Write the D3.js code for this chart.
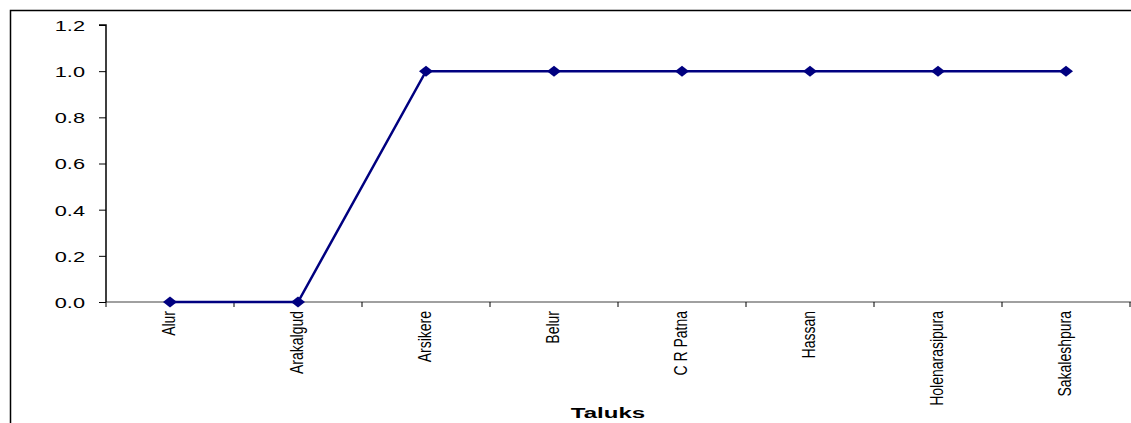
<!DOCTYPE html>
<html><head><meta charset="utf-8">
<script src="https://cdn.jsdelivr.net/npm/d3@7"></script>
<style>body{margin:0;background:#fff}svg{display:block}</style>
</head><body>
<script>
const categories = ["Alur","Arakalgud","Arsikere","Belur","C R Patna","Hassan","Holenarasipura","Sakaleshpura"];
const values = [0,0,1,1,1,1,1,1];
const yTicks = [0,0.2,0.4,0.6,0.8,1.0,1.2];
const xTitle = "Taluks";

const W=1131,H=423;
const svg=d3.select("body").append("svg").attr("width",W).attr("height",H);
// outer frame
svg.append("rect").attr("x",10.5).attr("y",10.5).attr("width",1200).attr("height",500)
  .attr("fill","none").attr("stroke","#000").attr("stroke-width",1.5);

const x=d3.scaleBand().domain(categories).range([106,1130]);
const y=d3.scaleLinear().domain([0,1.2]).range([302,25]);

// x axis line (gray)
svg.append("line").attr("x1",106).attr("x2",W).attr("y1",y(0)).attr("y2",y(0)).attr("stroke","#808080").attr("stroke-width",1.5);
// x ticks at band boundaries
const bounds=categories.map(c=>x(c)).concat([x.range()[1]]);
svg.selectAll(".xt").data(bounds).enter().append("line")
  .attr("x1",d=>d).attr("x2",d=>d).attr("y1",y(0)).attr("y2",y(0)+5).attr("stroke","#000").attr("stroke-width",1);
// x labels
svg.selectAll(".xl").data(categories).enter().append("text")
  .attr("transform",d=>`translate(${x(d)+x.bandwidth()/2+5},${y(0)+9}) rotate(-90) scale(1,1.3)`)
  .attr("text-anchor","end").attr("font-family","'Liberation Sans Narrow','Arial Narrow',sans-serif")
  .attr("font-size",14).attr("fill","#000").text(d=>d);

// y axis
const yAxis=d3.axisLeft(y).tickValues(yTicks).tickFormat(d3.format(".1f")).tickSize(7).tickPadding(0);
const gy=svg.append("g").attr("transform","translate(106,0)").call(yAxis);
gy.select(".domain").attr("stroke","#000").attr("stroke-width",1.5).attr("d",`M-7,${y(1.2)}H0V${y(0)}`);
gy.selectAll(".tick line").attr("stroke","#000");
gy.selectAll(".tick text").attr("x",null).attr("dy","0.36em")
  .attr("transform","translate(-21,0) scale(1.45,1)")
  .attr("font-family","'Liberation Sans',Arial,sans-serif").attr("font-size",15).attr("fill","#000");

// line
const line=d3.line().x((d,i)=>x(categories[i])+x.bandwidth()/2).y(d=>y(d));
svg.append("path").datum(values).attr("d",line).attr("fill","none").attr("stroke","#000080").attr("stroke-width",2.5);
// markers
svg.selectAll(".m").data(values).enter().append("path")
  .attr("d","M0,-5.5L7,0L0,5.5L-7,0Z")
  .attr("transform",(d,i)=>`translate(${x(categories[i])+x.bandwidth()/2},${y(d)})`)
  .attr("fill","#000080");

svg.append("text").attr("transform","translate(608,418) scale(1.55,1)").attr("text-anchor","middle")
  .attr("font-family","'Liberation Sans',Arial,sans-serif").attr("font-weight","bold").attr("font-size",15.5).text(xTitle);
</script>
</body></html>
